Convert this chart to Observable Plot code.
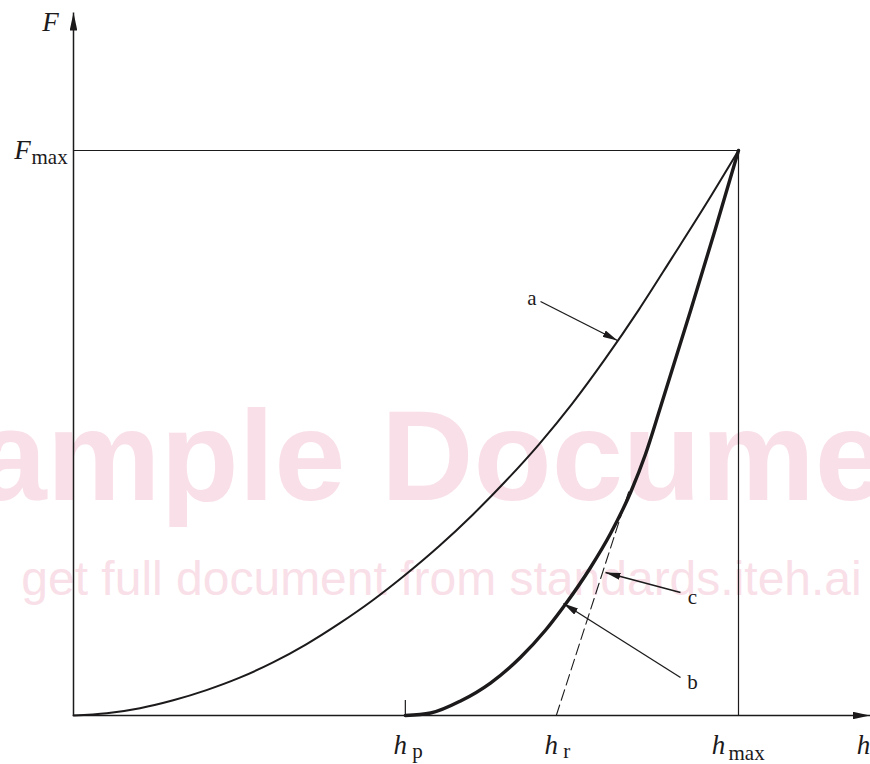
<!DOCTYPE html>
<html>
<head>
<meta charset="utf-8">
<script src="https://cdn.jsdelivr.net/npm/d3@7"></script>
<script src="https://cdn.jsdelivr.net/npm/@observablehq/plot@0.6"></script>
<style>
  html, body { margin: 0; padding: 0; background: #fff; }
  #chart svg { display: block; }
</style>
</head>
<body>
<div id="chart"></div>
<script>
// ---- data (normalised: hmax = 1, Fmax = 1) ----
// loading curve (a)
const loadH = [0, 0.05, 0.10, 0.15, 0.20, 0.25, 0.30, 0.35, 0.40, 0.45, 0.50, 0.55, 0.60, 0.65, 0.70, 0.75, 0.80, 0.85, 0.90, 0.95, 1];
const loadF = [0, 0.004, 0.013, 0.027, 0.045, 0.067, 0.094, 0.126, 0.163, 0.204, 0.250, 0.300, 0.355, 0.415, 0.480, 0.552, 0.632, 0.718, 0.810, 0.903, 1];
// unloading curve (b)
const unloadH = [0.499, 0.537, 0.582, 0.627, 0.672, 0.710, 0.740, 0.777, 0.808, 0.838, 0.860, 0.883, 0.928, 0.965, 1];
const unloadF = [0, 0.0044, 0.0257, 0.0575, 0.1027, 0.1513, 0.1973, 0.2611, 0.3230, 0.3956, 0.4619, 0.5469, 0.7168, 0.8602, 1];
// tangent to unloading curve (c)
const tangentH = [0.726, 0.836];
const tangentF = [0, 0.400];
// characteristic depths on the h axis
const depthSubs = ["p", "r", "max"];
const depthValues = [0.499, 0.726, 1];
const hmax = 1, Fmax = 1;
// callouts
const calloutLabels = ["a", "b", "c"];
const calloutFromH = [0.7023, 0.9128, 0.9128];
const calloutFromF = [0.7327, 0.0673, 0.2177];
const calloutToH = [0.8180, 0.7368, 0.8000];
const calloutToF = [0.6637, 0.1982, 0.2531];
// axes extents (arrow tips)
const axisEndH = 1.1985;
const axisEndF = 1.2442;

// ---- tables ----
const loading = loadH.map((h, i) => ({h, F: loadF[i]}));
const unloading = unloadH.map((h, i) => ({h, F: unloadF[i]}));
const tangent = tangentH.map((h, i) => ({h, F: tangentF[i]}));
const depths = depthSubs.map((s, i) => ({sub: s, h: depthValues[i]}));
const callouts = calloutLabels.map((l, i) => ({
  label: l, h1: calloutFromH[i], F1: calloutFromF[i], h2: calloutToH[i], F2: calloutToF[i]
}));
const axes = [
  {h1: 0, F1: 0, h2: axisEndH, F2: 0},
  {h1: 0, F1: 0, h2: 0, F2: axisEndF}
];

const ink = "#1c1a1b";
const pink = "#f9dfe8";
const serif = "'Liberation Serif', 'Times New Roman', serif";
const sans = "'Liberation Sans', Arial, sans-serif";

const italic = {fontFamily: serif, fontStyle: "italic", fontSize: 27, fill: ink, lineAnchor: "bottom", textAnchor: "middle"};
const sub = {fontFamily: serif, fontSize: 21, fill: ink, lineAnchor: "bottom", textAnchor: "start"};
const small = depths.filter(d => d.sub !== "max");
const big = depths.filter(d => d.sub === "max");

const chart = Plot.plot({
  width: 870,
  height: 764,
  marginLeft: 73,
  marginRight: 0,
  marginTop: 0,
  marginBottom: 49,
  x: {domain: [0, 797 / 665], axis: null},
  y: {domain: [0, 715 / 565], axis: null},
  style: {background: "#fff", overflow: "visible"},
  marks: [
    // watermark
    Plot.text(["Sample Document"], {text: d => d, frameAnchor: "top-left", dx: 375, dy: 499,
      textAnchor: "middle", lineAnchor: "bottom", fontFamily: sans, fontWeight: "bold", fontSize: 128, fill: pink}),
    Plot.text(["get full document from standards.iteh.ai"], {text: d => d, frameAnchor: "top-left", dx: 368, dy: 594,
      textAnchor: "middle", lineAnchor: "bottom", fontFamily: sans, fontSize: 48, fill: pink}),
    // frame lines to Fmax / hmax
    Plot.ruleY([Fmax], {x1: 0, x2: hmax, stroke: ink, strokeWidth: 1.2}),
    Plot.ruleX([hmax], {y1: 0, y2: Fmax, stroke: ink, strokeWidth: 1.2}),
    // hp tick
    Plot.ruleX(depths.filter(d => d.sub === "p"), {x: "h", y1: 0, y2: 0, insetTop: -15, stroke: ink, strokeWidth: 1.2}),
    // axes
    Plot.link(axes, {x1: "h1", y1: "F1", x2: "h2", y2: "F2", stroke: ink, strokeWidth: 1.5}),
    // tangent (c)
    Plot.line(tangent, {x: "h", y: "F", stroke: ink, strokeWidth: 1.1, strokeDasharray: "11,5"}),
    // loading (a)
    Plot.line(loading, {x: "h", y: "F", stroke: ink, strokeWidth: 2, curve: "monotone-x"}),
    // unloading (b)
    Plot.line(unloading, {x: "h", y: "F", stroke: ink, strokeWidth: 3.4, curve: "monotone-x"}),
    // callouts
    Plot.link(callouts, {x1: "h1", y1: "F1", x2: "h2", y2: "F2", stroke: ink, strokeWidth: 1.3}),
    Plot.text(callouts.filter(d => d.label === "a"), {x: "h1", y: "F1", text: "label", dx: -4, dy: 3,
      textAnchor: "end", lineAnchor: "bottom", fontFamily: serif, fontSize: 21, fill: ink}),
    Plot.text(callouts.filter(d => d.label !== "a"), {x: "h1", y: "F1", text: "label", dx: 12, dy: 12,
      textAnchor: "middle", lineAnchor: "bottom", fontFamily: serif, fontSize: 21, fill: ink}),
    // axis labels
    Plot.text(["F"], {x: 0, y: axisEndF, text: d => d, dx: -23, dy: 18, ...italic}),
    Plot.text(["h"], {x: axisEndH, y: 0, text: d => d, dx: -7, dy: 38, ...italic}),
    Plot.text(["F"], {x: 0, y: Fmax, text: d => d, dx: -51, dy: 8, ...italic}),
    Plot.text(["max"], {x: 0, y: Fmax, text: d => d, dx: -42, dy: 13, ...sub}),
    // depth labels
    Plot.text(small, {x: "h", y: 0, text: () => "h", dx: -5, dy: 38, ...italic}),
    Plot.text(small, {x: "h", y: 0, text: "sub", dx: 7, dy: 42, ...sub}),
    Plot.text(big, {x: "h", y: 0, text: () => "h", dx: -20, dy: 38, ...italic}),
    Plot.text(big, {x: "h", y: 0, text: "sub", dx: -10, dy: 44, ...sub})
  ]
});

// filled arrow heads
const svg = d3.select(chart);
const defs = svg.insert("defs", ":first-child");
function head(id, len, half) {
  defs.append("marker")
    .attr("id", id)
    .attr("viewBox", `${-len} ${-half} ${len} ${2 * half}`)
    .attr("refX", 0).attr("refY", 0)
    .attr("markerWidth", len).attr("markerHeight", 2 * half)
    .attr("markerUnits", "userSpaceOnUse")
    .attr("orient", "auto")
    .append("path")
    .attr("d", `M${-len},${-half}L0,0L${-len},${half}Z`)
    .attr("fill", ink);
}
head("axisHead", 18, 3.8);
head("calloutHead", 15, 3.6);
const linkGroups = chart.querySelectorAll('g[aria-label="link"]');
linkGroups[0].querySelectorAll("path").forEach(p => p.setAttribute("marker-end", "url(#axisHead)"));
linkGroups[1].querySelectorAll("path").forEach(p => p.setAttribute("marker-end", "url(#calloutHead)"));

document.getElementById("chart").appendChild(chart);
</script>
</body>
</html>
